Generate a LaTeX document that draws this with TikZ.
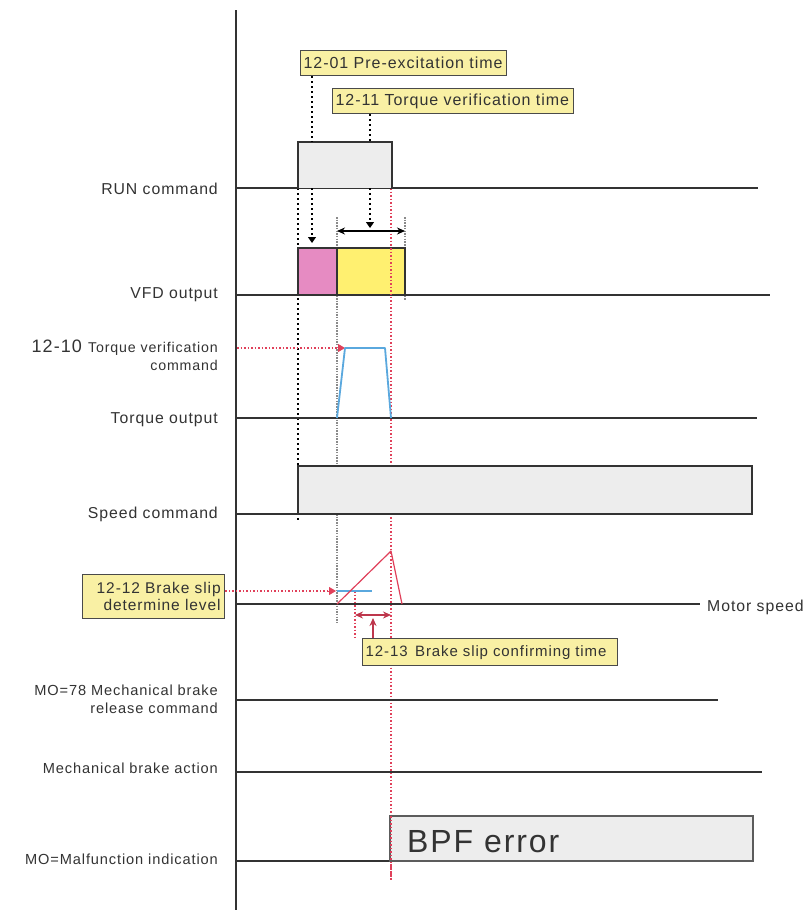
\documentclass[tikz,border=0pt]{standalone}
\usepackage{fontspec}
\setmainfont{Liberation Sans}[LetterSpace=6]
\usetikzlibrary{arrows.meta}
\definecolor{txt}{HTML}{333333}
\definecolor{linec}{HTML}{333333}
\definecolor{ylab}{HTML}{F9F0A4}
\definecolor{boxb}{HTML}{4A4A4A}
\definecolor{pinkf}{HTML}{E68BC2}
\definecolor{yelf}{HTML}{FFF070}
\definecolor{grayf}{HTML}{EDEDED}
\definecolor{redd}{HTML}{E0405A}
\definecolor{bluel}{HTML}{5AA8DE}
\definecolor{grdot}{HTML}{8A8A8A}
\tikzset{
  sig/.style={draw=linec, line width=1.5pt},
  lab/.style={text=txt, font=\fontsize{15.8}{18}\selectfont, inner sep=0pt, anchor=base east},
  labs/.style={text=txt, font=\fontsize{14.6}{17}\selectfont, inner sep=0pt, anchor=base east},
  ybox/.style={draw=boxb, fill=ylab, line width=1.3pt, text=txt, font=\fontsize{16}{18}\selectfont, inner ysep=0pt, inner xsep=3pt, anchor=north west},
  kdot/.style={draw=black, line width=1.5pt, dash pattern=on 2pt off 3pt},
  gdot/.style={draw=grdot, line width=1.5pt, dash pattern=on 1.5pt off 1.2pt},
  rdot/.style={draw=redd, line width=1.5pt, dash pattern=on 1.5pt off 2pt},
}
\begin{document}
\begin{tikzpicture}[x=1pt,y=-1pt]
\useasboundingbox (0,0) rectangle (808,910);
\fill[white] (0,0) rectangle (808,910);

% dotted guide lines (behind)
\draw[kdot] (298,188) -- (298,522);
\draw[gdot] (337,217) -- (337,623);
\draw[gdot] (405,217) -- (405,300);
\draw[rdot] (391,188) -- (391,880);
\draw[rdot] (355,591) -- (355,638);

% axis
\draw[sig] (236,10) -- (236,910);

% RUN command
\draw[sig] (236,188) -- (758,188);
\filldraw[fill=grayf, draw=linec, line width=1.5pt] (298,188) -- (298,142) -- (392,142) -- (392,188);
\node[lab] (lrun) at (218,194) {RUN command};

% labels at top
\node[ybox, text width=200pt, minimum height=25pt, align=left] (l1201) at (300,50) {12-01 Pre-excitation time};
\node[ybox, text width=235pt, minimum height=25pt, align=left] (l1211) at (332,88) {12-11 Torque verification time};
\coordinate (a1) at (312,243);
\coordinate (a2) at (370,228);
\draw[kdot] (l1201.south -| a1) -- (312,142);
\draw[kdot] (312,188) -- (312,236);
\draw[-{Triangle[length=6pt,width=8pt]}, black, line width=1.2pt] (312,240) -- (a1) ;
\draw[kdot] (l1211.south -| a2) -- (370,142);
\draw[kdot] (370,188) -- (370,221);
\draw[-{Triangle[length=6pt,width=8pt]}, black, line width=1.2pt] (370,224) -- (a2);
\coordinate (d1) at (337,231);
\coordinate (d2) at (405,231);
\draw[{Stealth[length=8pt,width=7pt]}-{Stealth[length=8pt,width=7pt]}, black, line width=1.3pt] (d1) -- (d2);

% VFD output
\draw[sig] (236,295) -- (770,295);
\filldraw[fill=pinkf, draw=linec, line width=1.5pt] (298,295) rectangle (337,248);
\filldraw[fill=yelf, draw=linec, line width=1.5pt] (337,295) rectangle (405,248);
\draw[rdot] (391,248) -- (391,295);
\node[lab] (lvfd) at (218,298) {VFD output};

% Torque
\draw[sig] (236,418) -- (757,418);
\coordinate (tq) at (345,348);
\draw[rdot] (237,348) -- (338,348);
\draw[-{Triangle[length=7pt,width=8pt]}, redd, line width=1pt] (338,348) -- (tq);
\draw[bluel, line width=1.8pt, line join=round] (337,418) -- (345,348) -- (385,348) -- (391,418);
\node[inner sep=0pt, anchor=base east, text=txt] (l1210) at (218,352) {\fontsize{18}{20}\selectfont 12-10 \fontsize{14.2}{16}\selectfont Torque verification};
\node[inner sep=0pt, anchor=base east, text=txt, font=\fontsize{14.2}{16}\selectfont] (l1210b) at (218,370) {command};
\node[lab] (ltq) at (218,423) {Torque output};

% Speed command
\filldraw[fill=grayf, draw=linec, line width=1.5pt] (298,514) rectangle (752,466);
\draw[sig] (236,514) -- (443,514);
\node[lab] (lspd) at (218,518) {Speed command};

% Motor speed
\draw[sig] (236,604) -- (700,604);
\node[lab, anchor=base west] (lms) at (707,611) {Motor speed};
\node[ybox, text width=134pt, minimum height=44pt, align=right, inner xsep=4pt, font=\fontsize{15.5}{17.5}\selectfont] (l1212) at (82,574) {12-12 Brake slip\\determine level};
\coordinate (bs) at (336,591);
\draw[rdot] (l1212.east |- bs) -- (328,591);
\draw[-{Triangle[length=7pt,width=8pt]}, redd, line width=1pt] (328,591) -- (bs);
\draw[bluel, line width=1.8pt] (337,591) -- (372,591);
\draw[redd, line width=1.2pt, line join=round] (337,604) -- (391,551) -- (402,604);
\coordinate (e1) at (355,615);
\coordinate (e2) at (391,615);
\draw[{Stealth[length=8pt,width=7pt]}-{Stealth[length=8pt,width=7pt]}, redd!85!black, line width=1.4pt] (e1) -- (e2);
\node[ybox, text width=249pt, minimum height=27pt, align=left, font=\fontsize{15}{17}\selectfont] (l1213) at (362,638) {12-13\, Brake slip confirming time};
\coordinate (e3) at (373,618);
\draw[-{Stealth[length=8pt,width=7pt]}, redd!85!black, line width=1.4pt] (l1213.north -| e3) -- (e3);

% MO=78
\draw[sig] (236,700) -- (718,700);
\node[labs] (lmo78) at (218,695) {MO=78 Mechanical brake};
\node[labs] (lmo78b) at (218,713) {release command};

% Mechanical brake action
\draw[sig] (236,772) -- (762,772);
\node[labs] (lmba) at (218,773) {Mechanical brake action};

% Malfunction
\draw[sig] (236,861) -- (390,861);
\filldraw[fill=grayf, draw=linec!80, line width=1.8pt] (390,861) rectangle (753,816);
\draw[rdot] (391,816) -- (391,880);
\node[inner sep=0pt, anchor=base west, text=txt, font=\fontsize{32}{36}\selectfont] (bpf) at (407,852) {BPF error};
\node[labs] (lmal) at (218,864) {MO=Malfunction indication};
\end{tikzpicture}
\end{document}
